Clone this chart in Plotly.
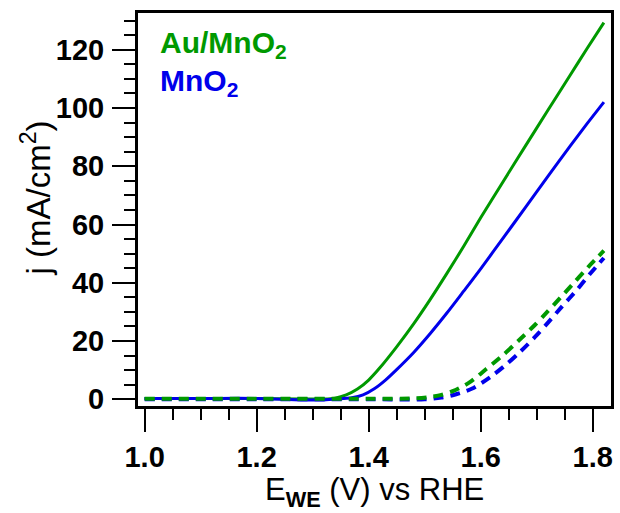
import plotly.graph_objects as go

# ---- data ----
au_solid_x = [1.00, 1.10, 1.20, 1.28, 1.32, 1.34, 1.36, 1.38, 1.40, 1.42, 1.45, 1.48, 1.51, 1.54, 1.57, 1.60, 1.64, 1.68, 1.72, 1.76, 1.79, 1.82]
au_solid_y = [0.3, 0.3, 0.3, 0.1, 0.1, 0.4, 1.5, 3.5, 6.6, 10.8, 18.0, 25.8, 34.3, 43.3, 52.6, 62.3, 74.7, 87.0, 99.2, 111.3, 120.4, 129.3]

mn_solid_x = [1.00, 1.10, 1.20, 1.28, 1.32, 1.35, 1.37, 1.39, 1.41, 1.43, 1.45, 1.48, 1.51, 1.54, 1.57, 1.60, 1.64, 1.68, 1.72, 1.76, 1.79, 1.82]
mn_solid_y = [0.3, 0.3, 0.3, -0.2, -0.2, 0.2, 0.5, 1.5, 3.6, 6.6, 10.2, 16.0, 22.6, 29.7, 37.2, 44.8, 55.3, 65.9, 76.5, 87.0, 94.6, 102.0]

au_dash_x = [1.00, 1.20, 1.40, 1.48, 1.51, 1.53, 1.55, 1.58, 1.61, 1.64, 1.667, 1.694, 1.718, 1.742, 1.768, 1.792, 1.82]
au_dash_y = [0.2, 0.2, 0.2, 0.3, 0.8, 1.5, 2.8, 5.8, 10.4, 15.2, 20.0, 25.0, 29.8, 34.8, 40.3, 45.4, 51.0]

mn_dash_x = [1.00, 1.20, 1.40, 1.50, 1.53, 1.55, 1.584, 1.617, 1.646, 1.67, 1.697, 1.721, 1.745, 1.772, 1.795, 1.82]
mn_dash_y = [0.0, 0.0, 0.0, 0.0, 0.6, 1.4, 3.6, 7.6, 12.0, 16.2, 21.4, 26.5, 31.8, 37.6, 43.0, 48.5]

GREEN = "rgb(0,153,0)"
BLUE = "rgb(0,0,235)"
FONT = "Liberation Sans, Arial, sans-serif"

fig = go.Figure()
fig.add_trace(go.Scatter(x=au_solid_x, y=au_solid_y, mode="lines",
                         line=dict(color=GREEN, width=3, shape="spline", smoothing=0.8)))
fig.add_trace(go.Scatter(x=mn_solid_x, y=mn_solid_y, mode="lines",
                         line=dict(color=BLUE, width=3, shape="spline", smoothing=0.8)))
fig.add_trace(go.Scatter(x=mn_dash_x, y=mn_dash_y, mode="lines",
                         line=dict(color=BLUE, width=4, dash="10px,7px", shape="spline", smoothing=0.8)))
fig.add_trace(go.Scatter(x=au_dash_x, y=au_dash_y, mode="lines",
                         line=dict(color=GREEN, width=4, dash="10px,7px", shape="spline", smoothing=0.8)))

axis_common = dict(
    showgrid=False, zeroline=False, showline=True, linecolor="black", linewidth=3,
    mirror=True, ticks="outside", tickcolor="black", tickwidth=2, ticklen=23,
    tickfont=dict(family=FONT, size=29, color="black", weight="bold"),
)

fig.update_layout(
    width=620, height=513,
    margin=dict(l=138, r=9, t=13, b=107, autoexpand=False),
    paper_bgcolor="white", plot_bgcolor="white",
    showlegend=False,
    xaxis=dict(range=[0.9882, 1.8327], tick0=1.0, dtick=0.2, tickformat=".1f",
               ticklabelstandoff=0,
               minor=dict(dtick=0.05, tick0=1.0, ticks="outside", ticklen=11, tickwidth=2, tickcolor="black"),
               **axis_common),
    yaxis=dict(range=[-2.3, 132.6], tick0=0, dtick=20,
               ticklabelstandoff=2,
               minor=dict(dtick=5, tick0=0, ticks="outside", ticklen=11, tickwidth=2, tickcolor="black"),
               **axis_common),
    annotations=[
        dict(text="<b>Au/MnO<sub>2</sub></b>", xref="paper", yref="paper", x=0.042, y=0.92,
             xanchor="left", yanchor="middle", showarrow=False,
             font=dict(family=FONT, size=30, color=GREEN)),
        dict(text="<b>MnO<sub>2</sub></b>", xref="paper", yref="paper", x=0.042, y=0.822,
             xanchor="left", yanchor="middle", showarrow=False,
             font=dict(family=FONT, size=30, color=BLUE)),
        dict(text="E<sub><b>WE</b></sub> (V) vs RHE", xref="paper", yref="paper", x=0.499, y=-0.218,
             xanchor="center", yanchor="middle", showarrow=False,
             font=dict(family=FONT, size=31, color="black")),
        dict(text="j (mA/cm<sup>2</sup>)", xref="paper", yref="paper", x=-0.215, y=0.529,
             xanchor="center", yanchor="middle", showarrow=False, textangle=-90,
             font=dict(family=FONT, size=33, color="black")),
    ],
)

fig.write_html("out.html", config={"displayModeBar": False},
               post_script="document.body.style.margin='0';document.body.style.overflow='hidden';")
